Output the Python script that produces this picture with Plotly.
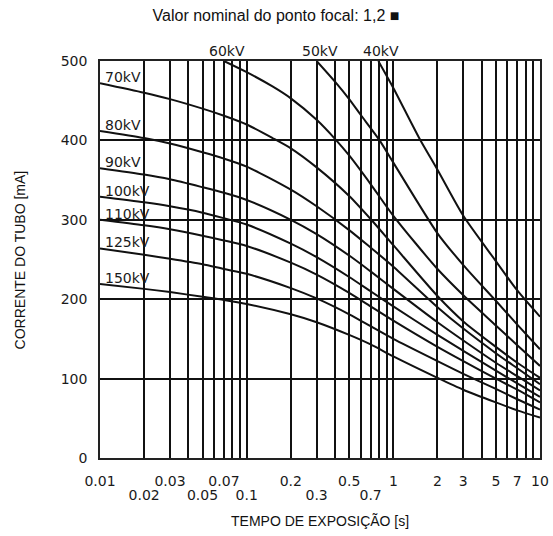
import math
import plotly.graph_objects as go

# ---------------- data ----------------
t_all = [0.01, 0.02, 0.03, 0.05, 0.07, 0.1, 0.2, 0.3, 0.5, 0.7, 1, 2, 3, 5, 7, 10]

ma_150 = [219, 213, 209, 203, 199, 194, 181, 171, 155, 143, 128, 101, 86, 70, 60, 51]
ma_125 = [264, 256, 251, 244, 238, 232, 214, 201, 181, 166, 150, 122, 106, 87, 74, 61]
ma_110 = [300, 293, 288, 280, 274, 267, 246, 231, 208, 191, 173, 140, 122, 100, 86, 70]
ma_100 = [329, 322, 317, 309, 302, 294, 270, 253, 228, 210, 191, 155, 135, 110, 94, 77]
ma_90 = [365, 357, 351, 341, 334, 325, 300, 282, 255, 235, 213, 171, 148, 120, 103, 85]
ma_80 = [412, 403, 396, 385, 377, 367, 338, 317, 287, 265, 241, 190, 163, 132, 113, 93]

t_70 = [0.01, 0.02, 0.03, 0.05, 0.07, 0.1, 0.15, 0.2, 0.3, 0.5, 0.7, 1, 2, 3, 5, 7, 10]
ma_70 = [472, 460, 452, 440, 431, 420, 403, 390, 366, 330, 301, 268, 204, 172, 140, 120, 101]

t_60 = [0.07, 0.1, 0.15, 0.2, 0.3, 0.4, 0.5, 0.7, 1, 2, 3, 5, 7, 10]
ma_60 = [500, 486, 468, 453, 426, 402, 381, 345, 305, 238, 205, 167, 142, 116]

t_50 = [0.3, 0.4, 0.5, 0.6, 0.8, 1, 2, 3, 5, 7, 10]
ma_50 = [500, 474, 452, 432, 401, 372, 283, 243, 198, 168, 137]

t_40 = [0.79, 1, 1.5, 2, 3, 5, 7, 10]
ma_40 = [500, 466, 403, 363, 305, 248, 211, 178]

left_labels = ["70kV", "80kV", "90kV", "100kV", "110kV", "125kV", "150kV"]
top_labels = ["60kV", "50kV", "40kV"]

x_grid = [0.01, 0.02, 0.03, 0.04, 0.05, 0.06, 0.07, 0.08, 0.09,
          0.1, 0.2, 0.3, 0.4, 0.5, 0.6, 0.7, 0.8, 0.9,
          1, 2, 3, 4, 5, 6, 7, 8, 9, 10]
x_row1 = [0.01, 0.03, 0.07, 0.2, 0.5, 1, 2, 3, 5, 7, 10]
x_row1_text = ["0.01", "0.03", "0.07", "0.2", "0.5", "1", "2", "3", "5", "7", "10"]
x_row2 = [0.02, 0.05, 0.1, 0.3, 0.7]
x_row2_text = ["0.02", "0.05", "0.1", "0.3", "0.7"]
y_ticks = [0, 100, 200, 300, 400, 500]

title_text = "Valor nominal do ponto focal: 1,2 ■"
x_title = "TEMPO DE EXPOSIÇÃO [s]"
y_title = "CORRENTE DO TUBO [mA]"

# ---------------- figure ----------------
W, H = 553, 536

fig = go.Figure()

left_series = [
    (t_70, ma_70), (t_all, ma_80), (t_all, ma_90), (t_all, ma_100),
    (t_all, ma_110), (t_all, ma_125), (t_all, ma_150),
]
top_series = [(t_60, ma_60), (t_50, ma_50), (t_40, ma_40)]

line_style = dict(color="#111111", width=2, shape="spline", smoothing=0.7)

for (tx, my), name in zip(left_series + top_series, left_labels + top_labels):
    fig.add_trace(go.Scatter(x=tx, y=my, mode="lines", line=line_style,
                             name=name, showlegend=False, hoverinfo="skip"))

# empty trace to carry the second tick-label row axis
fig.add_trace(go.Scatter(x=[], y=[], xaxis="x2", showlegend=False, hoverinfo="skip"))

label_font = dict(family="DejaVu Sans", size=14, color="#1a1a1a")
annotations = []
for (tx, my), name in zip(left_series, left_labels):
    annotations.append(dict(x=math.log10(tx[0]), y=my[0],
                            xref="x", yref="y", text=name, showarrow=False,
                            xanchor="left", yanchor="middle", xshift=3, yshift=6,
                            font=label_font))
for (tx, my), name in zip(top_series, top_labels):
    annotations.append(dict(x=math.log10(tx[0]), y=my[0],
                            xref="x", yref="y", text=name, showarrow=False,
                            xanchor="center", yanchor="middle", xshift=3, yshift=10,
                            font=label_font))

annotations.append(dict(x=0.5, y=-0.159, xref="paper", yref="paper", text=x_title,
                        showarrow=False, xanchor="center", yanchor="middle",
                        font=dict(family="Liberation Sans, Arial", size=14, color="#111")))
annotations.append(dict(x=-0.182, y=0.5, xref="paper", yref="paper", text=y_title,
                        showarrow=False, xanchor="center", yanchor="middle", textangle=-90,
                        font=dict(family="Liberation Sans, Arial", size=14, color="#111")))

tick_font = dict(family="DejaVu Sans", size=14, color="#1a1a1a")

fig.update_layout(
    width=W, height=H,
    margin=dict(l=100, r=13, t=61, b=78, autoexpand=False),
    paper_bgcolor="white", plot_bgcolor="white",
    title=dict(text=title_text, x=276 / W, xref="container", xanchor="center",
               y=1 - 15 / H, yref="container", yanchor="middle",
               font=dict(family="Liberation Sans, Arial", size=16, color="#111")),
    xaxis=dict(type="log", range=[-2, 1], tickmode="array",
               tickvals=x_grid,
               ticktext=[x_row1_text[x_row1.index(v)] if v in x_row1 else "" for v in x_grid],
               showgrid=True, gridcolor="#111111", gridwidth=1.6,
               showline=True, linecolor="#222222", linewidth=1.6, mirror=True,
               ticks="", ticklabelstandoff=9, tickfont=tick_font, zeroline=False),
    xaxis2=dict(type="log", range=[-2, 1], overlaying="x", side="bottom", matches="x",
                tickmode="array", tickvals=x_row2, ticktext=x_row2_text,
                showgrid=False, showline=False, ticks="", ticklabelstandoff=27,
                tickfont=tick_font, zeroline=False),
    yaxis=dict(range=[0, 500], tickmode="array", tickvals=y_ticks,
               showgrid=True, gridcolor="#111111", gridwidth=1.6,
               showline=True, linecolor="#222222", linewidth=1.6, mirror=True,
               ticks="", ticklabelstandoff=8, tickfont=tick_font, zeroline=False),
    annotations=annotations,
    showlegend=False,
)

fig.write_html(
    "out.html",
    config={"displayModeBar": False},
    post_script="document.body.style.margin='0';"
                "document.documentElement.style.overflow='hidden';",
)
